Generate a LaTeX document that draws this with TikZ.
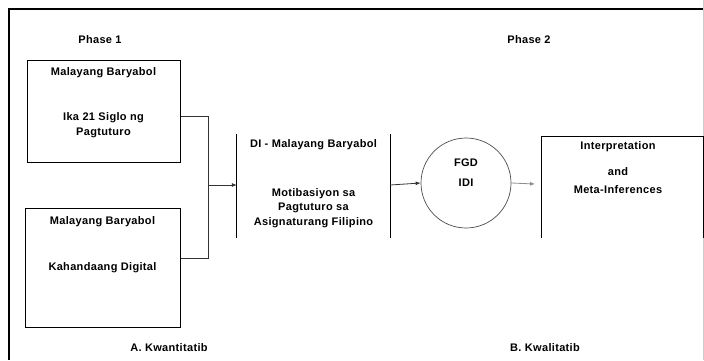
\documentclass[tikz,border=0pt]{standalone}
\usepackage{fontspec}
\setmainfont{Liberation Sans}
\newfontfamily\widesans[LetterSpace=3]{Liberation Sans}
\usetikzlibrary{arrows.meta}
\begin{document}
\begin{tikzpicture}[x=1pt,y=-1pt,
  txt/.style={font=\widesans\fontsize{11}{14.5}\selectfont\bfseries, inner sep=0pt, align=center},
  box/.style={draw, line width=1pt, inner sep=0pt},
  conn/.style={draw=black!80, line width=0.8pt},
  arr/.style={-{Latex[length=5pt,width=4pt]}}
]
\useasboundingbox (0,0) rectangle (704,360);
% outer frame
\draw[line width=2.6pt] (8,9) -- (704,9);
\draw[line width=2.2pt] (9,8) -- (9,360);
\draw[black!20, line width=0.6pt] (703.5,0) -- (703.5,360);

% headings
\node[txt] (p1) at (100,40) {Phase 1};
\node[txt] (p2) at (529,40) {Phase 2};
\node[txt] (qa) at (169,348) {A. Kwantitatib};
\node[txt] (qb) at (545,348) {B. Kwalitatib};

% phase 1 boxes
\node[box, minimum width=153pt, minimum height=102pt] (b1) at (103.5,111) {};
\node[txt] (b1a) at (103.5,73) {Malayang Baryabol};
\node[txt] (b1b) at (103.5,125) {Ika 21 Siglo ng\\Pagtuturo};

\node[box, minimum width=155pt, minimum height=119pt] (b2) at (102.5,267.5) {};
\node[txt] (b2a) at (102.5,222) {Malayang Baryabol};
\node[txt] (b2b) at (102.5,268) {Kahandaang Digital};

% junction
\coordinate (ja) at (208,116);
\coordinate (jb) at (208,258);
\coordinate (jm) at (208,185);
\draw[conn] (b1.east |- ja) -- (ja) -- (jb) -- (b2.east |- jb);

% DI box (sides only)
\node[minimum width=153pt, minimum height=104pt, inner sep=0pt] (di) at (313.5,186) {};
\draw[line width=1pt] (di.north west) -- (di.south west);
\draw[line width=1pt] (di.north east) -- (di.south east);
\node[txt] (dia) at (313.5,145) {DI - Malayang Baryabol};
\node[txt] (dib) at (313.5,208) {Motibasiyon sa\\Pagtuturo sa\\Asignaturang Filipino};

\draw[conn,arr] (jm) -- (di.west |- jm);

% circle
\node[circle, draw=black!70, line width=0.7pt, minimum size=90pt, inner sep=0pt] (fc) at (466,183) {};
\node[txt] (fgd) at (466,163) {FGD};
\node[txt] (idi) at (466,183) {IDI};
\draw[conn,arr] (di.east |- jm) -- (fc.west);

% interpretation box (no bottom)
\node[minimum width=161pt, minimum height=101pt, inner sep=0pt] (ip) at (622.5,187.5) {};
\draw[line width=1pt] (ip.south west) -- (ip.north west) -- (ip.north east) -- (ip.south east);
\node[txt] (ipa) at (618,147) {Interpretation};
\node[txt] (ipb) at (618,172) {and};
\node[txt] (ipc) at (618,190) {Meta-Inferences};

\coordinate (ae) at (535,184);
\draw[black!45, line width=0.8pt, arr] (fc.east) -- (ae);
\end{tikzpicture}
\end{document}
